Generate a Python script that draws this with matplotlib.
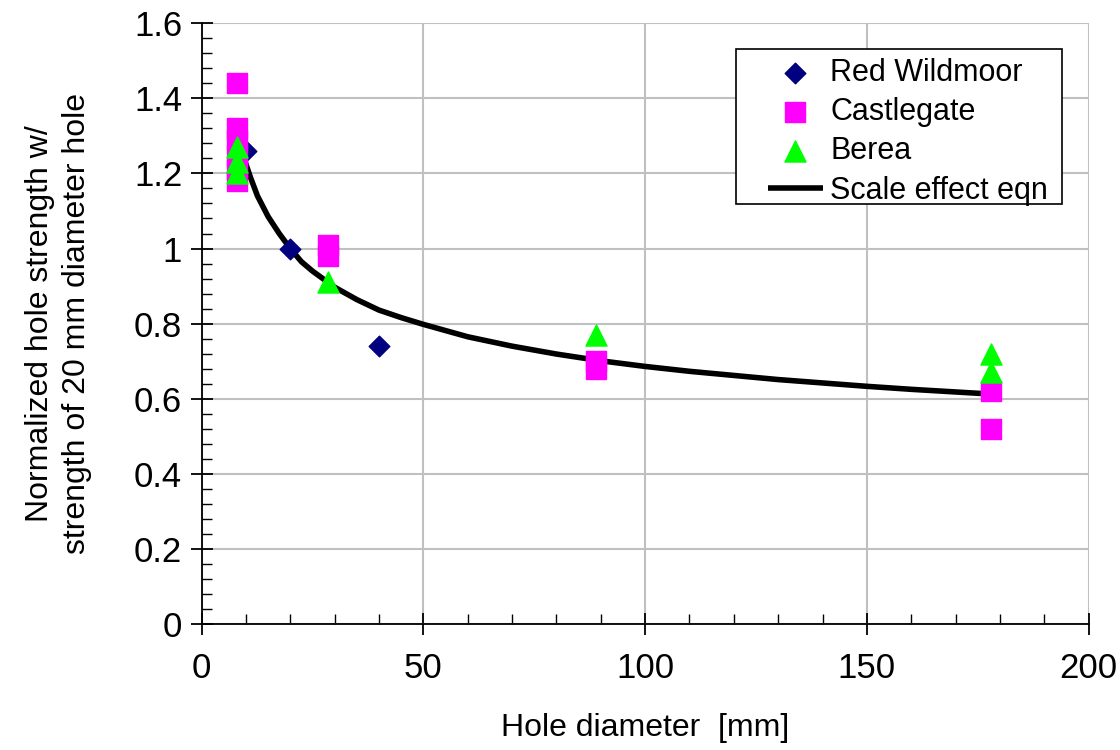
import matplotlib.pyplot as plt
from matplotlib.patches import Rectangle
from matplotlib.ticker import MultipleLocator, FuncFormatter

plt.rcParams['font.family'] = ['Liberation Sans', 'DejaVu Sans']

# Measured hole strengths, normalised by the 20 mm hole
red_d = [10, 20, 40]
red_s = [1.26, 1.00, 0.74]

castle_d = [8, 8, 8, 8, 8, 8, 28.5, 28.5, 89, 89, 178, 178]
castle_s = [1.44, 1.32, 1.29, 1.25, 1.21, 1.18, 1.01, 0.98, 0.70, 0.68, 0.62, 0.52]

berea_d = [8, 8, 8, 28.5, 89, 178, 178]
berea_s = [1.27, 1.23, 1.20, 0.91, 0.77, 0.72, 0.67]

# Scale effect equation curve
eqn_d = [8, 9, 10, 11, 12.6, 15, 17.5, 20, 22.5, 25, 30, 35, 40, 45, 50, 60, 70,
         80, 90, 100, 110, 120, 130, 140, 150, 160, 170, 180]
eqn_s = [1.30, 1.26, 1.225, 1.19, 1.14, 1.085, 1.04, 1.00, 0.965, 0.94, 0.897,
         0.864, 0.836, 0.816, 0.798, 0.765, 0.740, 0.719, 0.701, 0.686, 0.673,
         0.662, 0.651, 0.642, 0.633, 0.625, 0.618, 0.611]

fig = plt.figure(figsize=(11.2, 7.5), dpi=100)
ax = fig.add_axes([0.180, 0.168, 0.792, 0.801])

ax.plot(eqn_d, eqn_s, color='black', lw=4, solid_capstyle='butt',
        solid_joinstyle='round', label='Scale effect eqn', zorder=2)
ax.scatter(red_d, red_s, marker='D', s=110, color='#000080', label='Red Wildmoor', zorder=3)
ax.scatter(castle_d, castle_s, marker='s', s=200, color='#FF00FF', label='Castlegate', zorder=3)
ax.scatter(berea_d, berea_s, marker='^', s=230, color='#00FF00', label='Berea', zorder=4)

ax.set_xlim(0, 200)
ax.set_ylim(0, 1.6)
ax.xaxis.set_major_locator(MultipleLocator(50))
ax.xaxis.set_minor_locator(MultipleLocator(10))
ax.yaxis.set_major_locator(MultipleLocator(0.2))
ax.yaxis.set_minor_locator(MultipleLocator(0.04))
ax.yaxis.set_major_formatter(FuncFormatter(lambda v, p: f'{v:g}'))

ax.grid(True, which='major', color='#c0c0c0', lw=1.5)
ax.set_axisbelow(True)
for side in ['top', 'right']:
    ax.spines[side].set_visible(False)
for side in ['left', 'bottom']:
    ax.spines[side].set_linewidth(1.3)

ax.tick_params(which='major', direction='inout', length=16, width=1.3,
               labelsize=25, pad=6)
ax.tick_params(which='minor', direction='in', length=7, width=1.0)
ax.tick_params(axis='x', which='major', pad=12)

ax.set_xlabel('Hole diameter  [mm]', fontsize=23, labelpad=20)
ax.set_ylabel('Normalized hole strength w/\nstrength of 20 mm diameter hole',
              fontsize=23, labelpad=30, linespacing=1.3)

# legend box drawn separately so it can have wide side margins
box = Rectangle((0.603, 0.699), 0.367, 0.258, transform=ax.transAxes,
                facecolor='white', edgecolor='black', lw=1.2, zorder=5)
ax.add_patch(box)

handles, labels = ax.get_legend_handles_labels()
order = [1, 2, 3, 0]
leg = ax.legend([handles[i] for i in order], [labels[i] for i in order],
                loc='upper left', bbox_to_anchor=(0.638, 0.942), fontsize=22,
                frameon=False, handlelength=1.8, handletextpad=0.25,
                borderpad=0, labelspacing=0.3, borderaxespad=0)
leg.set_zorder(6)

fig.savefig('out.png', dpi=100)
